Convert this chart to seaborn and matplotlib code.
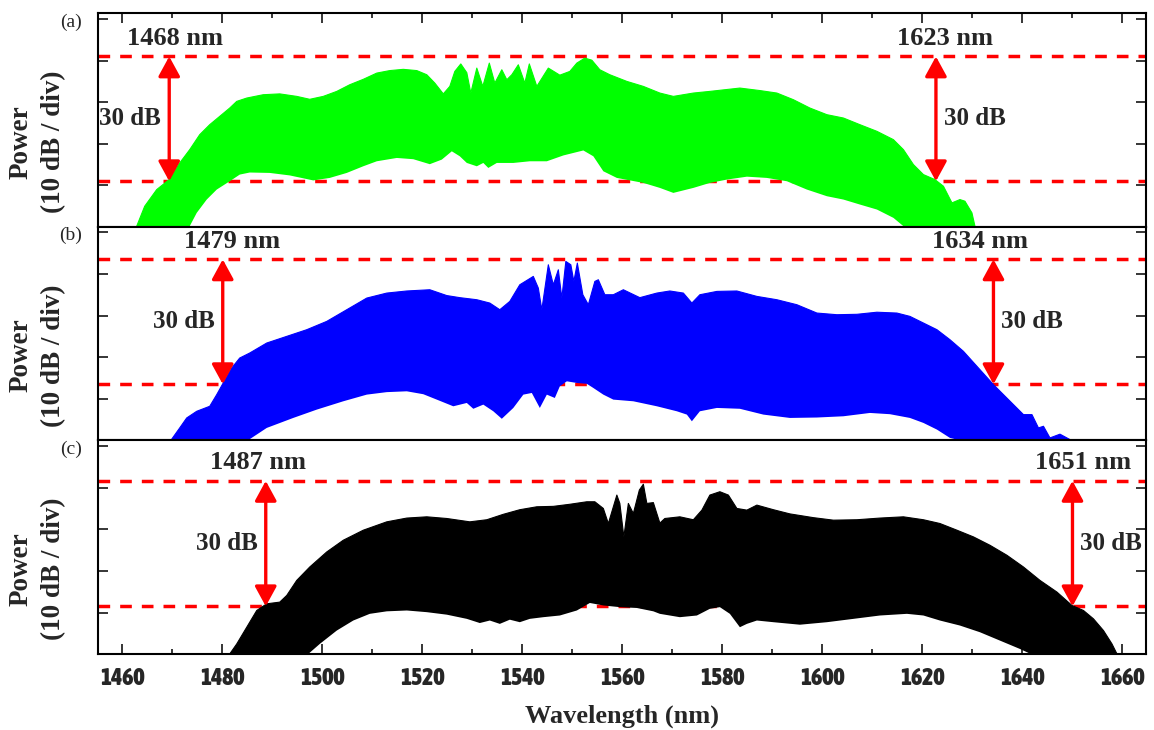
import matplotlib
matplotlib.use("Agg")
import numpy as np
import pandas as pd
import seaborn as sns
import matplotlib.pyplot as plt
from matplotlib import font_manager
from matplotlib.font_manager import FontProperties

# ---------------- data ----------------
panel_tags = ["(a)", "(b)", "(c)"]
spectrum_colors = ["#00ff00", "#0000ff", "#000000"]

a_upper_nm = [1462.9, 1464.5, 1466.9, 1469.4, 1471.5, 1473.5, 1475.5, 1477.5, 1479.5, 1481.5,
              1482.9, 1484.9, 1488.2, 1491.5, 1494.9, 1497.5, 1500.2, 1502.9, 1505.5, 1508.2,
              1510.9, 1513.5, 1516.2, 1518.9, 1520.9, 1522.5, 1524.2, 1525.5, 1526.5, 1527.7,
              1528.9, 1529.7, 1530.9, 1532.1, 1533.4, 1534.5, 1535.9, 1536.9, 1537.9, 1539.2,
              1540.5, 1541.4, 1542.9, 1545.2, 1547.5, 1549.5, 1550.9, 1552.5, 1553.9, 1555.5,
              1557.5, 1560.9, 1564.2, 1567.5, 1570.2, 1574.2, 1577.5, 1583.5, 1587.5, 1590.9,
              1594.2, 1597.5, 1600.9, 1604.2, 1607.5, 1610.9, 1614.2, 1616.2, 1618.2, 1620.2,
              1622.5, 1624.2, 1625.9, 1627.5, 1628.5, 1629.9, 1630.5]
a_upper_db = [-49.8, -45.0, -41.0, -38.6, -34.6, -31.4, -27.8, -25.4, -23.4, -21.4,
              -19.8, -19.0, -18.2, -18.0, -18.6, -19.3, -18.6, -17.4, -15.8, -14.5,
              -13.0, -12.4, -12.1, -12.4, -13.4, -15.4, -18.0, -16.2, -12.6, -10.8,
              -12.9, -17.8, -11.8, -16.2, -10.6, -15.4, -12.2, -14.6, -13.4, -11.0,
              -15.4, -10.8, -16.2, -11.8, -13.5, -12.6, -10.6, -9.4, -9.9, -12.2,
              -13.4, -15.0, -16.2, -17.8, -18.6, -17.8, -17.4, -16.6, -17.2, -17.8,
              -19.4, -21.4, -23.0, -23.8, -25.4, -27.0, -29.0, -31.4, -35.0, -37.4,
              -38.6, -40.2, -44.2, -43.4, -43.8, -46.6, -49.8]
a_lower_nm = [1462.9, 1473.0, 1473.5, 1474.9, 1476.9, 1478.9, 1481.5, 1483.5, 1485.5, 1489.5,
              1493.5, 1498.2, 1501.5, 1504.9, 1508.2, 1510.9, 1514.9, 1518.2, 1521.5, 1523.9,
              1525.9, 1527.5, 1528.9, 1530.9, 1532.2, 1533.2, 1534.9, 1538.2, 1541.5, 1544.9,
              1548.2, 1552.2, 1554.2, 1556.2, 1558.9, 1564.2, 1567.5, 1570.2, 1574.2, 1577.5,
              1580.9, 1584.9, 1588.9, 1592.9, 1596.9, 1600.9, 1604.2, 1607.5, 1610.9, 1614.2,
              1616.2, 1616.8, 1630.5]
a_lower_db = [-52.0, -52.0, -49.8, -46.6, -43.4, -41.0, -39.0, -37.4, -36.9, -37.0,
              -37.6, -38.8, -38.2, -37.0, -35.4, -34.2, -33.4, -33.7, -34.9, -33.8,
              -31.8, -33.0, -34.6, -35.4, -34.6, -35.8, -34.6, -34.6, -34.2, -34.2,
              -32.8, -31.6, -33.0, -36.6, -38.2, -39.4, -40.6, -41.8, -40.6, -39.4,
              -38.6, -37.9, -38.2, -39.0, -41.0, -42.6, -43.4, -44.6, -45.8, -47.8,
              -49.8, -52.0, -52.0]

b_upper_nm = [1469.9, 1471.5, 1472.9, 1474.9, 1477.5, 1478.9, 1480.2, 1481.9, 1483.5, 1485.5,
              1488.9, 1492.9, 1496.9, 1500.9, 1504.9, 1508.9, 1512.9, 1516.9, 1521.5, 1524.9,
              1527.5, 1530.9, 1533.5, 1535.5, 1537.5, 1539.5, 1542.2, 1543.2, 1543.9, 1545.2,
              1546.2, 1547.2, 1547.9, 1548.7, 1549.7, 1550.3, 1551.0, 1552.1, 1553.2, 1554.5,
              1555.2, 1556.5, 1558.2, 1560.2, 1563.5, 1566.9, 1569.5, 1572.2, 1573.9, 1575.5,
              1578.9, 1582.9, 1586.9, 1590.9, 1594.9, 1598.9, 1602.9, 1606.9, 1610.9, 1614.9,
              1617.5, 1620.2, 1622.9, 1625.5, 1628.2, 1630.9, 1634.2, 1636.2, 1638.2, 1640.2,
              1641.9, 1643.2, 1644.2, 1645.5, 1647.5, 1649.5]
b_upper_db = [-49.7, -47.0, -44.6, -43.0, -41.8, -39.0, -36.2, -32.6, -30.2, -29.0,
              -26.6, -25.0, -23.4, -21.4, -18.6, -15.8, -14.6, -14.1, -13.8, -15.2,
              -15.7, -16.2, -17.0, -18.6, -16.6, -12.6, -10.6, -13.4, -18.6, -7.8,
              -12.6, -9.0, -15.8, -7.0, -7.8, -11.8, -7.4, -15.0, -17.4, -11.8,
              -11.4, -15.0, -15.0, -13.8, -15.7, -14.6, -14.1, -14.6, -17.0, -15.0,
              -14.2, -14.1, -15.4, -16.2, -17.4, -19.4, -19.8, -19.7, -19.2, -19.4,
              -20.2, -21.8, -23.4, -25.8, -28.6, -32.2, -36.6, -39.0, -41.4, -43.8,
              -43.8, -47.0, -46.6, -49.4, -48.5, -49.8]
b_lower_nm = [1469.9, 1485.0, 1485.5, 1488.9, 1494.2, 1498.9, 1504.2, 1508.9, 1512.9, 1516.9,
              1520.2, 1522.9, 1526.2, 1528.9, 1530.2, 1532.2, 1534.2, 1535.9, 1538.2, 1540.2,
              1541.9, 1543.5, 1544.9, 1546.5, 1547.5, 1548.9, 1550.9, 1552.9, 1554.2, 1556.2,
              1558.2, 1562.2, 1566.9, 1570.9, 1572.9, 1573.9, 1575.5, 1578.9, 1583.5, 1588.2,
              1593.5, 1598.9, 1604.2, 1609.5, 1613.5, 1617.5, 1620.2, 1622.9, 1625.5, 1626.9,
              1627.5, 1649.5]
b_lower_db = [-52.0, -52.0, -49.7, -47.0, -44.6, -42.6, -40.6, -39.0, -38.4, -38.2,
              -38.9, -40.2, -41.8, -41.0, -42.4, -41.4, -43.0, -44.8, -42.2, -39.0,
              -38.6, -42.2, -39.0, -39.8, -37.0, -35.8, -36.2, -36.4, -37.4, -39.0,
              -40.2, -40.6, -41.8, -43.0, -43.8, -45.4, -43.0, -42.2, -42.4, -43.8,
              -44.6, -44.5, -44.2, -43.4, -43.7, -44.6, -45.8, -47.4, -49.4, -49.8,
              -52.0, -52.0]

c_upper_nm = [1481.5, 1482.9, 1484.9, 1486.9, 1488.9, 1491.5, 1492.9, 1494.9, 1497.5, 1500.9,
              1504.2, 1508.2, 1512.9, 1516.9, 1520.9, 1524.9, 1529.5, 1532.9, 1536.2, 1539.5,
              1542.9, 1546.2, 1549.5, 1552.9, 1554.5, 1556.2, 1557.2, 1558.9, 1559.5, 1560.3,
              1561.2, 1562.2, 1563.4, 1564.2, 1564.9, 1566.2, 1567.5, 1568.5, 1571.5, 1574.2,
              1575.9, 1577.5, 1579.5, 1581.2, 1582.9, 1584.9, 1586.9, 1590.2, 1593.5, 1598.2,
              1602.2, 1606.9, 1611.5, 1616.2, 1620.2, 1623.5, 1626.9, 1630.2, 1633.5, 1636.9,
              1640.2, 1643.5, 1646.9, 1649.9, 1652.2, 1654.2, 1656.2, 1657.9, 1658.9]
c_upper_db = [-49.8, -47.4, -43.4, -39.4, -37.8, -37.4, -35.8, -32.2, -29.0, -25.4,
              -22.6, -20.2, -18.2, -17.3, -17.0, -17.4, -18.2, -17.7, -16.4, -15.3,
              -14.6, -14.5, -14.0, -13.4, -13.4, -15.0, -18.6, -11.8, -13.8, -21.8,
              -13.8, -16.2, -10.6, -9.2, -13.8, -13.6, -18.5, -17.4, -17.0, -17.7,
              -15.4, -11.8, -11.0, -11.8, -15.0, -15.4, -14.2, -15.3, -16.3, -17.2,
              -17.8, -17.7, -17.3, -17.0, -17.7, -18.6, -20.2, -21.8, -23.8, -26.2,
              -29.0, -32.2, -35.0, -38.2, -39.4, -41.4, -44.2, -47.4, -49.8]
c_lower_nm = [1481.5, 1496.8, 1497.2, 1499.5, 1502.9, 1506.2, 1509.5, 1512.9, 1516.9, 1520.9,
              1524.9, 1528.9, 1531.5, 1533.5, 1535.5, 1537.5, 1539.5, 1541.5, 1544.2, 1547.5,
              1550.9, 1553.5, 1556.2, 1559.5, 1562.9, 1566.2, 1567.5, 1571.5, 1574.9, 1577.5,
              1579.5, 1581.5, 1583.5, 1584.9, 1586.9, 1590.2, 1595.5, 1600.9, 1606.2, 1611.5,
              1616.9, 1620.2, 1623.5, 1627.5, 1631.5, 1635.5, 1639.5, 1642.2, 1642.8, 1658.9]
c_lower_db = [-52.0, -52.0, -49.8, -47.4, -44.2, -41.8, -40.2, -39.6, -39.4, -39.8,
              -40.4, -41.4, -42.4, -41.8, -42.6, -41.6, -42.2, -41.4, -41.0, -40.6,
              -39.4, -37.6, -38.2, -38.6, -38.8, -39.6, -40.2, -41.0, -40.6, -39.0,
              -38.6, -40.2, -43.4, -42.6, -41.8, -42.2, -42.8, -42.2, -41.4, -40.6,
              -40.2, -40.6, -41.8, -43.0, -44.6, -46.6, -48.6, -50.1, -52.0, -52.0]

edge_labels_nm = [[1468, 1623], [1479, 1634], [1487, 1651]]      # printed values
arrow_nm = [[1469.4, 1622.7], [1480.1, 1634.2], [1488.7, 1650.0]]  # arrow positions
level_top_db = [-9.0, -6.5, -8.4]
span_db = 30
x_major = list(range(1460, 1661, 20))
x_minor = list(range(1470, 1661, 20))
y_ticks = [0, -10, -20, -30, -40]

uppers = [(a_upper_nm, a_upper_db), (b_upper_nm, b_upper_db), (c_upper_nm, c_upper_db)]
lowers = [(a_lower_nm, a_lower_db), (b_lower_nm, b_lower_db), (c_lower_nm, c_lower_db)]

# ---------------- styling ----------------
sns.set_style("ticks")
avail = {f.name for f in font_manager.fontManager.ttflist}
serif = "Liberation Serif" if "Liberation Serif" in avail else "DejaVu Serif"
plt.rcParams["font.family"] = [serif, "DejaVu Sans"]
plt.rcParams["axes.linewidth"] = 1.5


def _is_bold(f):
    w = f.weight
    if isinstance(w, str):
        return w.lower() in ("bold", "heavy", "extra bold", "black", "demibold", "semibold", "demi")
    return w >= 600


def _narrow_rank(f):
    if "Mono" in f.name or "Serif" in f.name or not _is_bold(f):
        return None
    if "Liberation Sans Narrow" in f.name:
        return 0
    if "Narrow" in f.name or "Condensed" in f.name:
        return 1
    if str(f.stretch) in ("condensed", "semi-condensed", "extra-condensed"):
        return 2
    return None


_cands = sorted([( _narrow_rank(f), f.fname) for f in font_manager.fontManager.ttflist
                 if _narrow_rank(f) is not None])
if _cands:
    tick_fp = FontProperties(fname=_cands[0][1], size=17)
else:
    tick_fp = FontProperties(family="Liberation Sans", weight="bold", size=15.5)

W, H = 1154, 730
fig = plt.figure(figsize=(W / 100, H / 100), dpi=100)

left_px, right_px = 97.7, 1146
panel_px = [(13.3, 226.6), (226.6, 440.0), (440.0, 654.4)]
label_dx = [[1.2, 1.8], [1.9, -2.6], [-1.6, 2.1]]   # nm offsets of "xxxx nm" text
red = "#ff0000"

for i in range(3):
    top_px, bot_px = panel_px[i]
    ax = fig.add_axes([left_px / W, 1 - bot_px / H, (right_px - left_px) / W, (bot_px - top_px) / H])

    up_x, up_y = uppers[i]
    lo_x, lo_y = lowers[i]
    poly_x = list(up_x) + list(lo_x)[::-1]
    poly_y = list(up_y) + list(lo_y)[::-1]
    ax.fill(poly_x, poly_y, color=spectrum_colors[i], lw=0, zorder=2)
    df_up = pd.DataFrame({"nm": up_x, "db": up_y})
    sns.lineplot(data=df_up, x="nm", y="db", ax=ax, color=spectrum_colors[i], lw=0.8,
                 sort=False, estimator=None, zorder=2)

    top = level_top_db[i]
    bot = top - span_db
    for lv in (top, bot):
        ax.axhline(lv, color=red, lw=2.5, dashes=(3.36, 2.88), zorder=1)

    for k in range(2):
        xa = arrow_nm[i][k]
        ax.annotate("", xy=(xa, top), xytext=(xa, bot),
                    arrowprops=dict(arrowstyle="<|-|>,head_length=0.55,head_width=0.3",
                                    color=red, lw=2.4, mutation_scale=22,
                                    shrinkA=0, shrinkB=0), zorder=4)
        ax.text(xa + label_dx[i][k], top + 4.4, f"{edge_labels_nm[i][k]} nm",
                ha="center", va="center", fontsize=19, fontweight="bold",
                family=[serif], zorder=5)
        if k == 0:
            ax.text(xa - 1.6, (top + bot) / 2, f"{span_db} dB", ha="right", va="center",
                    fontsize=18, fontweight="bold", family=[serif], zorder=5)
        else:
            ax.text(xa + 1.6, (top + bot) / 2, f"{span_db} dB", ha="left", va="center",
                    fontsize=18, fontweight="bold", family=[serif], zorder=5)

    ax.set_xticks(x_major)
    ax.set_xticks(x_minor, minor=True)
    ax.set_yticks(y_ticks)
    ax.set_xlim(1455.1, 1664.7)
    ax.set_ylim(-49.9, 1.37)
    ax.tick_params(axis="both", which="both", direction="in", width=1.3,
                   left=True, right=True, labelleft=False)
    ax.tick_params(axis="both", which="major", length=7)
    ax.tick_params(axis="both", which="minor", length=3.5)
    ax.tick_params(axis="y", which="minor", left=False, right=False)
    ax.tick_params(axis="x", which="both", top=(i == 0), bottom=(i == 2),
                   labeltop=False, labelbottom=(i == 2))
    for sp in ax.spines.values():
        sp.set_visible(True)
        sp.set_linewidth(1.5)
        sp.set_color("black")
    ax.set_xlabel("")
    ax.set_ylabel("")
    if i == 2:
        ax.tick_params(axis="x", which="major", pad=9)
        for lab in ax.get_xticklabels():
            lab.set_fontproperties(tick_fp)
        ax.set_xlabel("Wavelength (nm)", fontsize=19, fontweight="bold", family=[serif])
        ax.xaxis.set_label_coords(0.5, -(705 - bot_px) / (bot_px - top_px))
        ax.xaxis.label.set_va("top")

    cy = 1 - ((top_px + bot_px) / 2 + 22) / H
    fig.text(21 / W, cy, "Power", rotation=90, ha="center", va="center",
             fontsize=19.5, fontweight="bold", family=[serif])
    fig.text(54 / W, cy, "(10 dB / div)", rotation=90, ha="center", va="center",
             fontsize=19.5, fontweight="bold", family=[serif])
    fig.text(71 / W, 1 - (top_px + 9) / H, panel_tags[i], ha="center", va="center",
             fontsize=14, family=[serif])

fig.savefig("out.png", dpi=100)
